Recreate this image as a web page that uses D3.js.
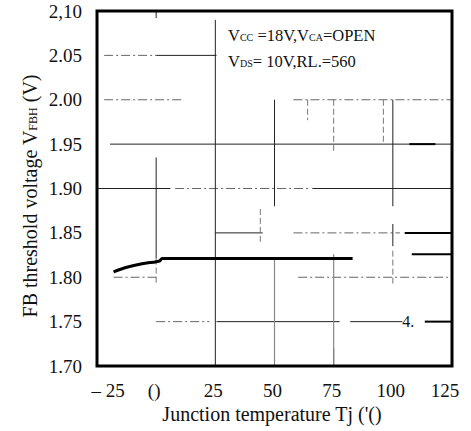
<!doctype html>
<html>
<head>
    <meta charset="utf-8">
    <title>FB threshold voltage vs junction temperature</title>
    <style>
        body {
            margin: 0;
            padding: 0;
            background: #fff;
        }
        #wrap {
            position: relative;
            width: 471px;
            height: 431px;
        }
        #wrap svg {
            position: absolute;
            left: 0;
            top: 0;
        }
        #wrap .lbl, #wrap .lbl span {
            position: absolute;
            font-family: "Liberation Serif", "DejaVu Serif", serif !important;
            line-height: 1;
            white-space: nowrap;
            color: #111;
        }
        #wrap .lbl span {
            position: static;
        }
    </style>
</head>
<body>
    <div id="wrap">
        <svg id="chart" width="471" height="431"></svg>
    </div>

    <script src="https://d3js.org/d3.v7.min.js"></script>
    <script>
        var FONT = "'Liberation Serif', 'DejaVu Serif', serif";

        // axis ticks
        var tempTicks = [-25, 0, 25, 50, 75, 100, 125];
        var tempLabels = ["– 25", "()", "25", "50", "75", "100", "125"];
        var voltTicks = [1.70, 1.75, 1.80, 1.85, 1.90, 1.95, 2.00, 2.05, 2.10];
        var voltLabels = ["1.70", "1.75", "1.80", "1.85", "1.90", "1.95", "2.00", "2.05", "2,10"];

        // measured curve
        var curveTemp = [-18, -15, -12, -8, -4, 0, 1.5, 2.5, 83];
        var curveVolt = [1.806, 1.809, 1.8115, 1.814, 1.816, 1.8175, 1.8185, 1.821, 1.821];

        // broken gridlines from the scan: [value, from, to]
        var hSolid = [[2.05, 0, 25.5], [1.95, -19.5, 125], [1.90, -25, 6], [1.90, 66, 125],
                      [1.85, 25, 45], [1.75, 25.5, 77.5], [1.75, 82, 104]];
        var hDashed = [[2.05, -22, 0], [2.00, -22, 11], [2.00, 58, 125], [1.90, 8, 65],
                       [1.85, 58, 103], [1.80, -18, 0], [1.80, 60, 125], [1.75, 0, 22.5]];
        var hThick = [[1.95, 107, 118], [1.85, 105, 125], [1.826, 108, 125], [1.75, 113.5, 125]];
        var vSolid = [[0, 2.10, 2.092], [0, 1.935, 1.821], [25, 2.09, 1.70], [50, 2.00, 1.88],
                      [100, 2.00, 1.88], [100, 1.86, 1.835], [75, 1.72, 1.70]];
        var vGrey = [[50, 1.82, 1.70], [75, 1.826, 1.70]];
        var vDashed = [[0, 1.821, 1.792], [44, 1.877, 1.84], [64, 2.00, 1.977],
                       [75, 2.00, 1.94], [96, 2.00, 1.95], [100, 1.83, 1.79]];

        var x = d3.scaleLinear().domain([-25, 125]).range([97, 452]);
        var y = d3.scaleLinear().domain([1.70, 2.10]).range([366, 11]);

        var svg = d3.select("#chart");
        var wrap = d3.select("#wrap");

        function hLines(list) {
            return svg.append("g").selectAll("line")
                .data(list)
                .enter().append("line")
                .attr("x1", function(d) { return x(d[1]); })
                .attr("x2", function(d) { return x(d[2]); })
                .attr("y1", function(d) { return y(d[0]); })
                .attr("y2", function(d) { return y(d[0]); });
        }
        function vLines(list) {
            return svg.append("g").selectAll("line")
                .data(list)
                .enter().append("line")
                .attr("x1", function(d) { return x(d[0]); })
                .attr("x2", function(d) { return x(d[0]); })
                .attr("y1", function(d) { return y(d[1]); })
                .attr("y2", function(d) { return y(d[2]); });
        }

        hLines(hSolid).attr("stroke", "#222").attr("stroke-width", 1);
        hLines(hDashed).attr("stroke", "#666").attr("stroke-width", 1).attr("stroke-dasharray", "9,3,2,3");
        hLines(hThick).attr("stroke", "#000").attr("stroke-width", 2);
        vLines(vSolid).attr("stroke", "#222").attr("stroke-width", 1);
        vLines(vGrey).attr("stroke", "#888").attr("stroke-width", 1.2);
        vLines(vDashed).attr("stroke", "#777").attr("stroke-width", 1).attr("stroke-dasharray", "6,3");

        // curve
        var pts = curveTemp.map(function(t, i) { return [t, curveVolt[i]]; });
        svg.append("path")
            .datum(pts)
            .attr("fill", "none")
            .attr("stroke", "#000")
            .attr("stroke-width", 3)
            .attr("d", d3.line()
                .x(function(d) { return x(d[0]); })
                .y(function(d) { return y(d[1]); })
                .curve(d3.curveMonotoneX));

        // frame
        svg.append("rect")
            .attr("x", x(-25)).attr("y", y(2.10))
            .attr("width", x(125) - x(-25)).attr("height", y(1.70) - y(2.10))
            .attr("fill", "none").attr("stroke", "#000").attr("stroke-width", 3);

        // text laid out as html over the svg
        var ASC = 0.8375; // baseline offset of Liberation Serif with line-height 1
        function label(px, baseline, size, anchor) {
            var shift = anchor === "end" ? "-100%" : anchor === "middle" ? "-50%" : "0";
            return wrap.append("div")
                .attr("class", "lbl")
                .style("font-family", FONT, "important")
                .style("left", px + "px")
                .style("top", (baseline - ASC * size) + "px")
                .style("font-size", size + "px")
                .style("transform", "translateX(" + shift + ")");
        }

        // tick labels
        voltTicks.forEach(function(d, i) {
            label(82, y(d) + 6.5, 19, "end").text(voltLabels[i]);
        });
        tempTicks.forEach(function(d, i) {
            var px = x(d) - 2;
            if (i === 0) px = x(d) + 11;
            if (i === tempTicks.length - 1) px = x(d) - 7;
            label(px, 397, 19, "middle").text(tempLabels[i]);
        });

        // axis titles
        label(272, 421, 20, "middle").text("Junction temperature Tj ('()");

        var yt = wrap.append("div")
            .attr("class", "lbl")
            .style("font-family", FONT, "important")
            .style("left", "30px")
            .style("top", "196px")
            .style("font-size", "20px")
            .style("transform", "translate(-50%,-50%) rotate(-90deg)");
        yt.append("span").text("FB threshold voltage V");
        yt.append("span").style("font-size", "12px").text("FBH");
        yt.append("span").text(" (V)");

        // conditions
        var c1 = label(228, 42, 16.5, "start");
        c1.append("span").text("V");
        c1.append("span").style("font-size", "10px").text("CC");
        c1.append("span").text(" =18V,V");
        c1.append("span").style("font-size", "10px").text("CA");
        c1.append("span").text("=OPEN");

        var c2 = label(228, 68, 16.5, "start");
        c2.append("span").text("V");
        c2.append("span").style("font-size", "10px").text("DS");
        c2.append("span").text("= 10V,RL.=560");

        label(x(104), 327, 16, "start").text("4.");
    </script>
</body>
</html>
